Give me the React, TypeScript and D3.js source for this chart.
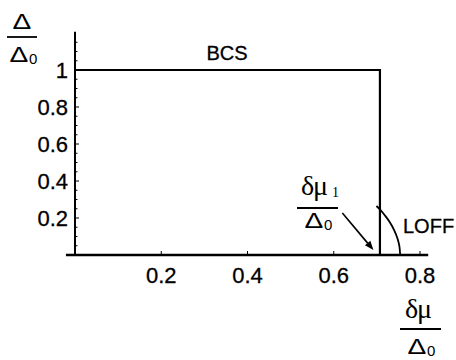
import React from 'react';
import * as d3 from 'd3';

// gap curves (x = dmu / Delta0, y = Delta / Delta0)
const bcsX = [0, 0.7071, 0.7071];
const bcsY = [1, 1, 0];
const loffX = [0.699, 0.707, 0.72, 0.73, 0.74, 0.748, 0.752, 0.754];
const loffY = [0.265, 0.247, 0.21, 0.177, 0.135, 0.088, 0.051, 0];
const xTicks = [0.2, 0.4, 0.6, 0.8];
const yTicks = [0.2, 0.4, 0.6, 0.8, 1];
const yMinor = d3.range(1, 24).map((i) => i * 0.05);
const arrowFrom = [0.62, 0.227];
const arrowTo = [0.692, 0.027];

const SANS = '"Liberation Sans", Arial, Helvetica, sans-serif';
const SERIF = '"Liberation Serif", "Times New Roman", serif';

// wide capital delta, as in the original typesetting
function Delta({ cx, base, sub }: { cx: number; base: number; sub?: string }) {
  return (
    <g>
      <text
        transform={`translate(${cx},${base}) scale(1.28,1)`}
        textAnchor="middle"
        fontFamily={SANS}
        fontSize={22}
      >
        Δ
      </text>
      {sub && (
        <text x={cx + 10} y={base + 2} fontFamily={SANS} fontSize={15}>
          {sub}
        </text>
      )}
    </g>
  );
}

export default function App() {
  const x = d3.scaleLinear().domain([0, 0.8]).range([75, 420]);
  const y = d3.scaleLinear().domain([0, 1]).range([255, 70]);
  const xMin = -0.021;
  const xMax = 0.819;
  const yMax = 1.207;

  const line = d3.line<[number, number]>()
    .x((d) => x(d[0]))
    .y((d) => y(d[1]));
  const curve = d3.line<[number, number]>()
    .x((d) => x(d[0]))
    .y((d) => y(d[1]))
    .curve(d3.curveMonotoneY);

  const bcs = bcsX.map((v, i) => [v, bcsY[i]] as [number, number]);
  const loff = loffX.map((v, i) => [v, loffY[i]] as [number, number]);

  // arrow head
  const ax0 = x(arrowFrom[0]);
  const ay0 = y(arrowFrom[1]);
  const ax1 = x(arrowTo[0]);
  const ay1 = y(arrowTo[1]);
  const ang = Math.atan2(ay1 - ay0, ax1 - ax0);
  const hl = 9;
  const hw = 3.5;
  const bx = ax1 - hl * Math.cos(ang);
  const by = ay1 - hl * Math.sin(ang);
  const head = `M${ax1},${ay1}L${bx + hw * Math.sin(ang)},${by - hw * Math.cos(ang)}L${bx - hw * Math.sin(ang)},${by + hw * Math.cos(ang)}Z`;

  return (
    <svg
      width={456}
      height={360}
      style={{ position: 'absolute', left: 0, top: 0, background: '#fff' }}
    >
      {/* axes */}
      <line x1={x(xMin)} x2={x(xMax)} y1={y(0)} y2={y(0)} stroke="#000" strokeWidth={2.5} />
      <line x1={x(0)} x2={x(0)} y1={y(0)} y2={y(yMax)} stroke="#000" strokeWidth={2} />

      {yMinor.map((t) => (
        <line
          key={`ym${t}`}
          x1={x(0)}
          x2={x(0) + (Math.abs((t * 5) - Math.round(t * 5)) < 1e-6 ? 4 : 2.5)}
          y1={y(t)}
          y2={y(t)}
          stroke="#000"
          strokeWidth={1}
        />
      ))}
      {xTicks.map((t) => (
        <line key={`xt${t}`} x1={x(t)} x2={x(t)} y1={y(0)} y2={y(0) - 4} stroke="#000" strokeWidth={1} />
      ))}

      {yTicks.map((t) => (
        <text
          key={`yl${t}`}
          x={68}
          y={y(t)}
          dy="0.36em"
          textAnchor="end"
          fontFamily={SANS}
          fontSize={22}
          stroke="#000"
          strokeWidth={0.3}
        >
          {d3.format('~g')(t)}
        </text>
      ))}
      {xTicks.map((t) => (
        <text
          key={`xl${t}`}
          x={x(t)}
          y={283}
          textAnchor="middle"
          fontFamily={SANS}
          fontSize={22}
          stroke="#000"
          strokeWidth={0.3}
        >
          {t}
        </text>
      ))}

      {/* curves */}
      <path d={line(bcs) ?? ''} fill="none" stroke="#000" strokeWidth={2.2} />
      <path d={curve(loff) ?? ''} fill="none" stroke="#000" strokeWidth={1.8} />

      <text x={227} y={60} textAnchor="middle" fontFamily={SANS} fontSize={20} stroke="#000" strokeWidth={0.3}>BCS</text>
      <text x={403} y={233} fontFamily={SANS} fontSize={20} stroke="#000" strokeWidth={0.3}>LOFF</text>

      {/* arrow to dmu_1 */}
      <line x1={ax0} y1={ay0} x2={bx} y2={by} stroke="#000" strokeWidth={1.6} />
      <path d={head} fill="#000" />

      {/* dmu_1 / Delta_0 */}
      <text x={314} y={195} textAnchor="middle" fontFamily={SERIF} fontSize={28} letterSpacing={-1}>δμ</text>
      <text x={332} y={197} fontFamily={SERIF} fontSize={14}>1</text>
      <line x1={297} x2={338} y1={208} y2={208} stroke="#000" strokeWidth={1.8} />
      <Delta cx={314} base={228} sub="0" />

      {/* y label Delta / Delta_0 */}
      <Delta cx={22} base={29} />
      <line x1={7} x2={37} y1={37} y2={37} stroke="#000" strokeWidth={1.8} />
      <Delta cx={19} base={62} sub="0" />

      {/* x label dmu / Delta_0 */}
      <text x={418} y={318} textAnchor="middle" fontFamily={SERIF} fontSize={28} letterSpacing={-1}>δμ</text>
      <line x1={400} x2={441} y1={329} y2={329} stroke="#000" strokeWidth={1.8} />
      <Delta cx={417} base={354} sub="0" />
    </svg>
  );
}
